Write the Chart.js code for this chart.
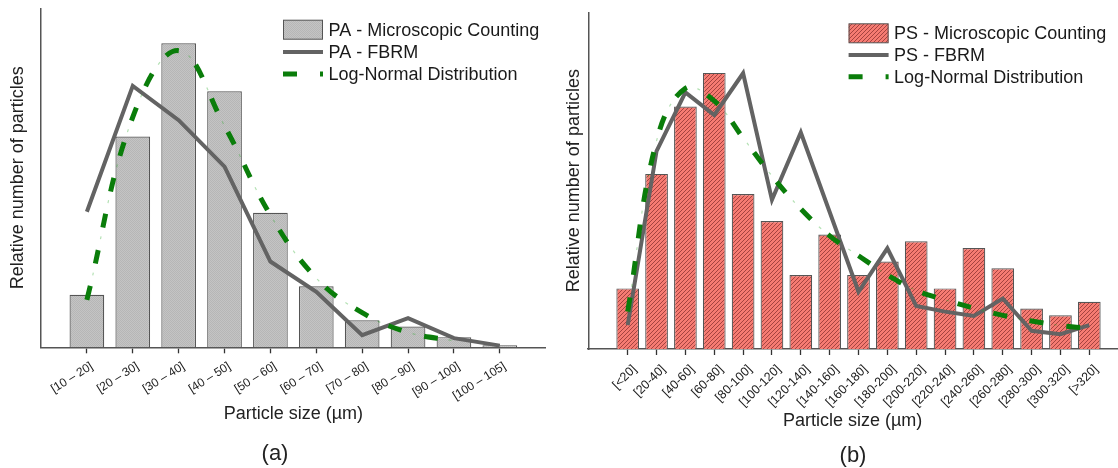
<!DOCTYPE html>
<html>
<head>
<meta charset="utf-8">
<script src="https://cdn.jsdelivr.net/npm/chart.js@4/dist/chart.umd.min.js"></script>
<style>
    body { margin: 0; background: #fff; }
    .wrap { position: relative; width: 1118px; height: 468px; overflow: hidden; }
    .panel { position: absolute; top: 0; }
    .tag { position: absolute; font: 22px "Liberation Sans", Arial, sans-serif; color: #222; transform: translate(-50%, -50%); }
</style>
</head>
<body>
<div class="wrap">
    <div class="panel" style="left:0"><canvas id="chartPA" width="556" height="468"></canvas></div>
    <div class="panel" style="left:556px"><canvas id="chartPS" width="562" height="468"></canvas></div>
    <div class="tag" style="left:275px; top:453px">(a)</div>
    <div class="tag" style="left:853px; top:455px">(b)</div>
</div>
<script>
// PA data (relative, 0..100 of the axis height)
const paLabels = ['[10 – 20]', '[20 – 30]', '[30 – 40]', '[40 – 50]', '[50 – 60]', '[60 – 70]', '[70 – 80]', '[80 – 90]', '[90 – 100]', '[100 – 105]'];
const paCounting = [15.5, 62.2, 89.7, 75.5, 39.7, 18, 8, 6.1, 3, 0.6];
const paFbrm = [40, 77.1, 67, 53.3, 25.3, 16.4, 3.6, 8.6, 2.7, 0.5];
const paLogNormal = [14, 67.9, 87.5, 65.3, 39, 20.4, 10.2, 4.4, 1.9, null];

// PS data
const psLabels = ['[<20]', '[20-40]', '[40-60]', '[60-80]', '[80-100]', '[100-120]', '[120-140]', '[140-160]', '[160-180]', '[180-200]', '[200-220]', '[220-240]', '[240-260]', '[260-280]', '[280-300]', '[300-320]', '[>320]'];
const psCounting = [18, 52, 72, 82, 46, 38, 22, 34, 22, 26, 32, 18, 30, 24, 12, 10, 14];
const psFbrm = [7.1, 58.8, 76.2, 69.5, 81.9, 44.3, 64.3, 40.7, 17, 29.9, 12.8, 11.1, 9.8, 15, 5.4, 4.4, 7.1];
const psLogNormal = [11.1, 61.8, 77.4, 73.7, 62.7, 51.4, 41.6, 33.6, 27.7, 22, 17.4, 14.6, 12.1, 10, 8.3, 7, 6.1];

Chart.defaults.font.family = '"Liberation Sans", Arial, sans-serif';
Chart.defaults.color = '#222';

const toPoints = (values) => values.map((v, i) => ({x: i, y: v}));

// fill patterns for the bars
function dotPattern() {
    const c = document.createElement('canvas');
    c.width = 2; c.height = 2;
    const g = c.getContext('2d');
    g.fillStyle = '#c4c4c4'; g.fillRect(0, 0, 2, 2);
    g.fillStyle = '#b6b6b6'; g.fillRect(0, 0, 1, 1); g.fillRect(1, 1, 1, 1);
    return g.createPattern(c, 'repeat');
}

function hatchPattern() {
    const c = document.createElement('canvas');
    c.width = 4; c.height = 4;
    const g = c.getContext('2d');
    g.fillStyle = '#f67b72'; g.fillRect(0, 0, 4, 4);
    g.strokeStyle = 'rgba(110,30,30,0.75)';
    g.lineWidth = 0.8;
    g.beginPath();
    g.moveTo(0, 4); g.lineTo(4, 0);
    g.moveTo(-1, 1); g.lineTo(1, -1);
    g.moveTo(3, 5); g.lineTo(5, 3);
    g.stroke();
    return g.createPattern(c, 'repeat');
}

// legend drawn inside the plot, as in the figure
const insideLegend = {
    id: 'insideLegend',
    afterDraw(chart, args, opts) {
        const ctx = chart.ctx;
        const items = chart.data.datasets.filter(d => d.label);
        ctx.save();
        items.forEach((ds, i) => {
            const cy = opts.y + i * opts.gap;
            if (ds.type === 'bar') {
                ctx.fillStyle = ds.backgroundColor;
                ctx.fillRect(opts.x, cy - 9.5, 40, 19);
                ctx.strokeStyle = ds.borderColor;
                ctx.lineWidth = 1;
                ctx.strokeRect(opts.x + 0.5, cy - 9.5, 39, 19);
            } else {
                ctx.strokeStyle = ds.borderColor;
                ctx.lineWidth = ds.borderWidth;
                ctx.setLineDash(ds.borderDash || []);
                ctx.beginPath();
                ctx.moveTo(opts.x, cy);
                ctx.lineTo(opts.x + 40, cy);
                ctx.stroke();
                ctx.setLineDash([]);
            }
            ctx.fillStyle = '#1a1a1a';
            ctx.font = '18px "Liberation Sans", Arial, sans-serif';
            ctx.textBaseline = 'middle';
            ctx.fillText(ds.label, opts.x + 45.5, cy + 1);
        });
        ctx.restore();
    }
};

function makeChart(id, cfg) {
    const labels = cfg.labels;
    return new Chart(document.getElementById(id), {
        data: {
            datasets: [
                {
                    type: 'bar', label: cfg.name + ' - Microscopic Counting', data: toPoints(cfg.counting),
                    backgroundColor: cfg.fill, borderColor: '#555', borderWidth: 1.2,
                    barPercentage: cfg.barWidth, categoryPercentage: 1, order: 4
                },
                {
                    type: 'line', label: cfg.name + ' - FBRM', data: toPoints(cfg.fbrm),
                    borderColor: '#636363', borderWidth: 4, pointRadius: 0, tension: 0, order: 3
                },
                {
                    // faint trace visible between the dashes
                    type: 'line', data: toPoints(cfg.logNormal),
                    borderColor: 'rgba(40,170,40,0.35)', borderWidth: 1.2, borderDash: [3, 34], borderDashOffset: 12,
                    pointRadius: 0, tension: 0.4, order: 2
                },
                {
                    type: 'line', label: 'Log-Normal Distribution', data: toPoints(cfg.logNormal),
                    borderColor: '#0a7d0a', borderWidth: 5, borderDash: [14, 23],
                    pointRadius: 0, tension: 0.4, order: 1
                }
            ]
        },
        options: {
            responsive: false,
            animation: false,
            events: [],
            layout: {padding: cfg.padding},
            plugins: {
                legend: {display: false},
                tooltip: {enabled: false},
                insideLegend: cfg.legend
            },
            scales: {
                x: {
                    type: 'linear', min: cfg.xMin, max: cfg.xMax, offset: false,
                    afterBuildTicks: (s) => { s.ticks = labels.map((_, i) => ({value: i})); },
                    afterFit: (s) => { s.height = cfg.xHeight; },
                    ticks: {
                        callback: (v) => labels[v], autoSkip: false,
                        minRotation: cfg.rotation, maxRotation: cfg.rotation,
                        font: {size: cfg.labelSize}, color: '#222',
                        padding: cfg.labelPad, labelOffset: cfg.labelShift
                    },
                    grid: {offset: false, drawOnChartArea: false, drawTicks: true, tickLength: 6, tickColor: '#333', tickWidth: 1.3},
                    border: {color: '#555', width: 1.6},
                    title: {display: true, text: 'Particle size (µm)', font: {size: 18}, color: '#222', padding: 0}
                },
                y: {
                    min: 0, max: 100,
                    afterFit: (s) => { s.width = cfg.yWidth; },
                    ticks: {display: false},
                    grid: {display: false},
                    border: {color: '#555', width: 1.5},
                    title: {display: true, text: 'Relative number of particles', font: {size: 18}, color: '#222', padding: {top: 7, bottom: 0}}
                }
            }
        },
        plugins: [insideLegend]
    });
}

makeChart('chartPA', {
    name: 'PA', labels: paLabels, counting: paCounting, fbrm: paFbrm, logNormal: paLogNormal,
    fill: dotPattern(), barWidth: 0.756, rotation: 32, labelSize: 12, labelPad: 6, labelShift: 5,
    xMin: -1, xMax: 10, xHeight: 77.5, yWidth: 41,
    padding: {top: 8.3, right: 10.3, bottom: 43.2, left: 0},
    legend: {x: 283, y: 29.7, gap: 22.2}
});

makeChart('chartPS', {
    name: 'PS', labels: psLabels, counting: psCounting, fbrm: psFbrm, logNormal: psLogNormal,
    fill: hatchPattern(), barWidth: 0.787, rotation: 45, labelSize: 12.5, labelPad: 7, labelShift: 7,
    xMin: -1.366, xMax: 16.96, xHeight: 82.8, yWidth: 32.3,
    padding: {top: 12.3, right: 1, bottom: 36.2, left: 0},
    legend: {x: 292.6, y: 33.3, gap: 21.7}
});
</script>
</body>
</html>
